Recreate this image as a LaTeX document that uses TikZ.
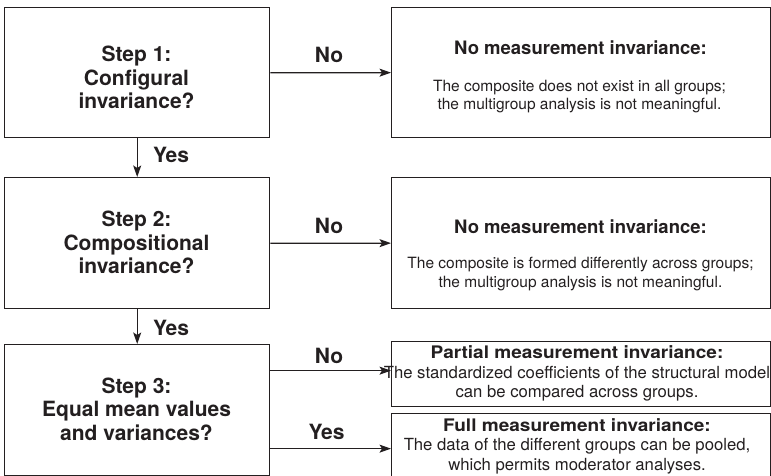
\documentclass[tikz,border=0pt]{standalone}
\usepackage{fontspec}
\setmainfont{TeX Gyre Heros}
\newfontfamily\widehdr[FakeStretch=1.1]{TeX Gyre Heros}
\usetikzlibrary{arrows.meta}
\definecolor{ink}{HTML}{231F20}
\newcommand{\mlines}[1]{\begin{tabular}[t]{@{}c@{}}#1\end{tabular}}
\begin{document}
\begin{tikzpicture}[x=1pt,y=-1pt,
  stepbox/.style={draw=ink, line width=1.4pt, inner sep=0pt, anchor=north west},
  resbox/.style={draw=ink, line width=1.3pt, inner sep=0pt, anchor=north west},
  arr/.style={draw=ink, line width=1.25pt, -{Stealth[length=11.5pt,width=8pt,inset=2.5pt]}},
  lbl/.style={font=\fontsize{21}{24}\selectfont\bfseries, text=ink, inner sep=0pt, anchor=base},
  steptext/.style={font=\fontsize{21}{23.5}\selectfont\bfseries, text=ink, inner sep=0pt, anchor=base},
  hdrA/.style={font=\fontsize{18.5}{22}\selectfont\bfseries, text=ink, inner sep=0pt, anchor=base},
  bodyA/.style={font=\fontsize{15.5}{18.5}\selectfont, text=ink, inner sep=0pt, anchor=base},
  hdrB/.style={font=\widehdr\fontsize{17.3}{20}\selectfont\bfseries, text=ink, inner sep=0pt, anchor=base},
  bodyB/.style={font=\fontsize{16.7}{19.5}\selectfont, text=ink, inner sep=0pt, anchor=base}
]
\useasboundingbox (0,0) rectangle (771,476);
% step boxes
\node[stepbox, minimum width=265pt, minimum height=130pt] (s1) at (4,7) {};
\node[stepbox, minimum width=265pt, minimum height=131pt] (s2) at (4,177) {};
\node[stepbox, minimum width=265pt, minimum height=131pt] (s3) at (4,344) {};
% result boxes
\node[resbox, minimum width=379pt, minimum height=130pt] (r1) at (391,7) {};
\node[resbox, minimum width=379pt, minimum height=131pt] (r2) at (391,177) {};
\node[resbox, minimum width=379pt, minimum height=65pt] (r3) at (391,341) {};
\node[resbox, minimum width=379pt, minimum height=66pt] (r4) at (391,413) {};
% step texts
\node[steptext] (t1) at (136.5,62) {\mlines{Step 1:\\Configural\\invariance?}};
\node[steptext] (t2) at (136.5,226.5) {\mlines{Step 2:\\Compositional\\invariance?}};
\node[steptext] (t3) at (136.5,393) {\mlines{Step 3:\\Equal mean values\\and variances?}};
% result texts
\node[hdrA] (h1) at (580.5,55) {No measurement invariance:};
\node[bodyA, font=\fontsize{15.5}{18}\selectfont] (b1) at (579.5,92) {\mlines{The composite does not exist in all groups;\\the multigroup analysis is not meaningful.}};
\node[hdrA] (h2) at (580.5,233) {No measurement invariance:};
\node[bodyA, font=\fontsize{15.5}{19}\selectfont] (b2) at (580.5,268) {\mlines{The composite is formed differently across groups;\\the multigroup analysis is not meaningful.}};
\node[hdrB] (h3) at (577,358.5) {Partial measurement invariance:};
\node[bodyB] (b3) at (577,378) {\mlines{The standardized coefficients of the structural model\\can be compared across groups.}};
\node[hdrB] (h4) at (577,431) {Full measurement invariance:};
\node[bodyB] (b4) at (577,450.5) {\mlines{The data of the different groups can be pooled,\\which permits moderator analyses.}};
% connectors
\draw[arr] (s1.east) -- (r1.west);
\draw[arr] (s2.east) -- (r2.west);
\draw[arr] ([yshift=3.5pt]s3.east |- r3.west) -- ([yshift=3.5pt]r3.west);
\draw[arr] ([yshift=-2pt]s3.east |- r4.west) -- ([yshift=-2pt]r4.west);
\draw[arr] (s1.south) -- (s2.north);
\draw[arr] (s2.south) -- (s3.north);
% labels
\node[lbl] (n1) at (329,63) {No};
\node[lbl] (n2) at (329,233) {No};
\node[lbl] (n3) at (329,363) {No};
\node[lbl] (y3) at (326.5,439) {Yes};
\node[lbl] (y1) at (171,163) {Yes};
\node[lbl] (y2) at (171,335) {Yes};
\end{tikzpicture}
\end{document}
